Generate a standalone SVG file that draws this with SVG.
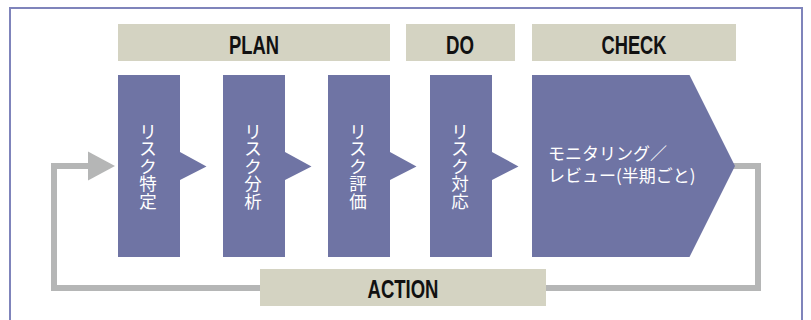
<svg xmlns="http://www.w3.org/2000/svg" width="811" height="320" viewBox="0 0 811 320">
  <style>
    .bar { fill: #d4d3c2; }
    .step { fill: #6f74a4; }
    .lbl { font-family: "Liberation Sans", Arial, sans-serif; font-weight: bold; font-size: 26px; fill: #111111; text-anchor: middle; }
    .jp { font-family: "Noto Sans CJK JP", "Noto Sans", sans-serif; font-size: 17.5px; fill: #ffffff; text-anchor: middle; }
    .jp2 { font-family: "Noto Sans CJK JP", "Noto Sans", sans-serif; font-size: 17px; fill: #ffffff; }
    .loop { fill: none; stroke: #b5b6b6; stroke-width: 6; }
  </style>
  <rect x="10" y="8" width="792" height="320" fill="#ffffff" stroke="#7f84bb" stroke-width="2"/>

  <g id="connectors">
    <polyline class="loop" points="262,288 54,288 54,166 90,166"/>
    <polygon points="88,151.5 115,166 88,180.5" fill="#b5b6b6"/>
    <polyline class="loop" points="544,288 758,288 758,166 715,166"/>
  </g>

  <g id="plan">
    <rect class="bar" x="118" y="24" width="272" height="37"/>
    <text class="lbl" x="254" y="54" textLength="50" lengthAdjust="spacingAndGlyphs">PLAN</text>
  </g>
  <g id="do">
    <rect class="bar" x="406" y="24" width="109" height="37"/>
    <text class="lbl" x="460" y="54" textLength="28" lengthAdjust="spacingAndGlyphs">DO</text>
  </g>
  <g id="check">
    <rect class="bar" x="532" y="24" width="204" height="37"/>
    <text class="lbl" x="634" y="54" textLength="65" lengthAdjust="spacingAndGlyphs">CHECK</text>
  </g>
  <g id="action">
    <rect class="bar" x="260" y="269" width="286" height="37"/>
    <text class="lbl" x="403" y="298" textLength="71" lengthAdjust="spacingAndGlyphs">ACTION</text>
  </g>

  <g id="step1">
    <path class="step" d="M118,75 H180 V152 L206.5,166.5 L180,180 V257 H118 Z"/>
    <text class="jp"><tspan x="148" y="137.5">リ</tspan><tspan x="148" y="155.1">ス</tspan><tspan x="148" y="172.7">ク</tspan><tspan x="148" y="190.3">特</tspan><tspan x="148" y="207.9">定</tspan></text>
  </g>
  <g id="step2">
    <path class="step" d="M223,75 H285 V152 L311.5,166.5 L285,180 V257 H223 Z"/>
    <text class="jp"><tspan x="253" y="137.5">リ</tspan><tspan x="253" y="155.1">ス</tspan><tspan x="253" y="172.7">ク</tspan><tspan x="253" y="190.3">分</tspan><tspan x="253" y="207.9">析</tspan></text>
  </g>
  <g id="step3">
    <path class="step" d="M328,75 H390 V152 L416.5,166.5 L390,180 V257 H328 Z"/>
    <text class="jp"><tspan x="358" y="137.5">リ</tspan><tspan x="358" y="155.1">ス</tspan><tspan x="358" y="172.7">ク</tspan><tspan x="358" y="190.3">評</tspan><tspan x="358" y="207.9">価</tspan></text>
  </g>
  <g id="step4">
    <path class="step" d="M430,75 H492 V152 L518.5,166.5 L492,180 V257 H430 Z"/>
    <text class="jp"><tspan x="460" y="137.5">リ</tspan><tspan x="460" y="155.1">ス</tspan><tspan x="460" y="172.7">ク</tspan><tspan x="460" y="190.3">対</tspan><tspan x="460" y="207.9">応</tspan></text>
  </g>
  <g id="step5">
    <path class="step" d="M532,75 H689.5 L735,166 L689.5,257 H532 Z"/>
    <text class="jp2" x="548" y="160">モニタリング／</text>
    <text class="jp2" x="548" y="182">レビュー(半期ごと)</text>
  </g>
</svg>
